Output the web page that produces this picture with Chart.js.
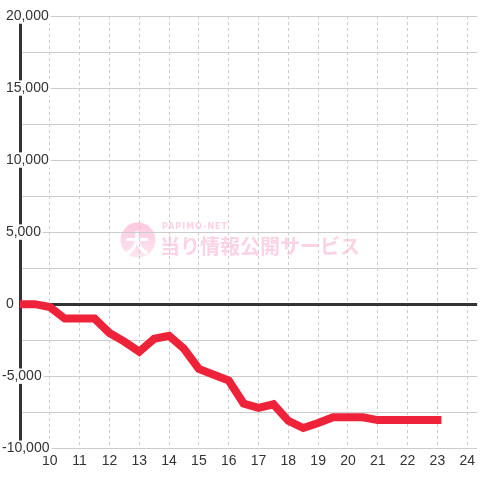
<!DOCTYPE html>
<html>
<head>
<meta charset="utf-8">
<script src="https://cdn.jsdelivr.net/npm/chart.js@4"></script>
<style>
  html, body { margin: 0; padding: 0; background: #fff; }
  canvas { display: block; }
</style>
</head>
<body>
<canvas id="balanceChart" width="480" height="480"></canvas>
<script>
// hours (x) and running balance (y)
const hours = [9, 9.5, 10, 10.5, 11, 11.5, 12, 12.5, 13, 13.5, 14, 14.5, 15, 15.5, 16,
  16.5, 17, 17.5, 18, 18.5, 19, 19.5, 20, 20.5, 21, 21.5, 22, 22.5, 23];
const balance = [0, 0, -200, -1000, -1000, -1000, -2000, -2600, -3300, -2400, -2200, -3100, -4500, -4900, -5300,
  -6900, -7200, -6950, -8100, -8600, -8250, -7850, -7850, -7850, -8050, -8050, -8050, -8050, -8050];

// axis ticks
const hourTicks = [9, 10, 11, 12, 13, 14, 15, 16, 17, 18, 19, 20, 21, 22, 23, 24];
const yMin = -10000;
const yMax = 20000;
const yStep = 2500;
const yLabelStep = 5000;

const textColor = '#333';
const gridColor = '#cccccc';
const lineColor = '#ee2239';
const fontFamily = '"Liberation Sans", Arial, sans-serif';

// Pink site watermark drawn under the grid
const watermark = {
  id: 'watermark',
  beforeDraw(chart) {
    const ctx = chart.ctx;
    ctx.save();
    const grad = ctx.createLinearGradient(0, 222, 0, 258);
    grad.addColorStop(0, '#fcc8de');
    grad.addColorStop(1, '#fde6f0');
    ctx.fillStyle = grad;
    ctx.beginPath();
    ctx.arc(138, 240, 17.5, 0, Math.PI * 2);
    ctx.fill();

    ctx.fillStyle = '#ffffff';
    ctx.font = 'bold 24px "Noto Sans CJK JP", sans-serif';
    ctx.textAlign = 'center';
    ctx.textBaseline = 'middle';
    ctx.fillText('大', 137, 243);

    ctx.fillStyle = '#fcd3e5';
    ctx.textAlign = 'left';
    ctx.font = 'bold 8px "DejaVu Sans", sans-serif';
    ctx.letterSpacing = '1px';
    ctx.fillText('PAPIMO-NET', 162, 227);
    ctx.letterSpacing = '0px';
    ctx.font = 'bold 20px "Noto Sans CJK JP", sans-serif';
    ctx.fillText('当り情報公開サービス', 160, 246);
    ctx.restore();
  }
};

// positive labels get a leading space so the digits line up with the minus sign
function formatYLabel(value) {
  if (value % yLabelStep !== 0) return '';
  const text = value.toLocaleString('en-US');
  return value < 0 ? text : ' ' + text;
}

new Chart(document.getElementById('balanceChart'), {
  type: 'line',
  data: {
    datasets: [{
      data: hours.map((h, i) => ({ x: h, y: balance[i] })),
      borderColor: lineColor,
      borderWidth: 8,
      borderCapStyle: 'square',
      pointRadius: 0,
      tension: 0,
      fill: false
    }]
  },
  options: {
    responsive: false,
    animation: false,
    layout: {
      padding: { left: 20, top: 16, right: 0, bottom: 5 }
    },
    plugins: {
      legend: { display: false },
      tooltip: { enabled: false }
    },
    scales: {
      x: {
        type: 'linear',
        min: 9,
        max: 24.333,
        afterBuildTicks: scale => {
          scale.ticks = hourTicks.map(v => ({ value: v }));
        },
        ticks: {
          autoSkip: false,
          maxRotation: 0,
          padding: 5,
          color: textColor,
          font: { family: fontFamily, size: 14 },
          callback: value => (value === 9 ? '' : value)
        },
        grid: {
          color: gridColor,
          lineWidth: 1,
          drawTicks: false
        },
        border: { display: false, dash: [3, 3] }
      },
      y: {
        min: yMin,
        max: yMax,
        // mirrored labels sit over the axis line; keep the axis box itself at zero width
        afterFit: scale => {
          scale.width = 0;
        },
        ticks: {
          stepSize: yStep,
          mirror: true,
          crossAlign: 'near',
          padding: -18,
          color: textColor,
          font: { family: fontFamily, size: 14, lineHeight: 1.1 },
          showLabelBackdrop: ctx => ctx.tick.value % yLabelStep === 0,
          backdropColor: '#ffffff',
          backdropPadding: { x: 2, y: 0 },
          callback: value => formatYLabel(value)
        },
        grid: {
          color: ctx => (ctx.tick.value === 0 ? textColor : gridColor),
          lineWidth: ctx => (ctx.tick.value === 0 ? 3 : 1),
          drawTicks: false
        },
        border: { color: textColor, width: 3 }
      }
    }
  },
  plugins: [watermark]
});
</script>
</body>
</html>
